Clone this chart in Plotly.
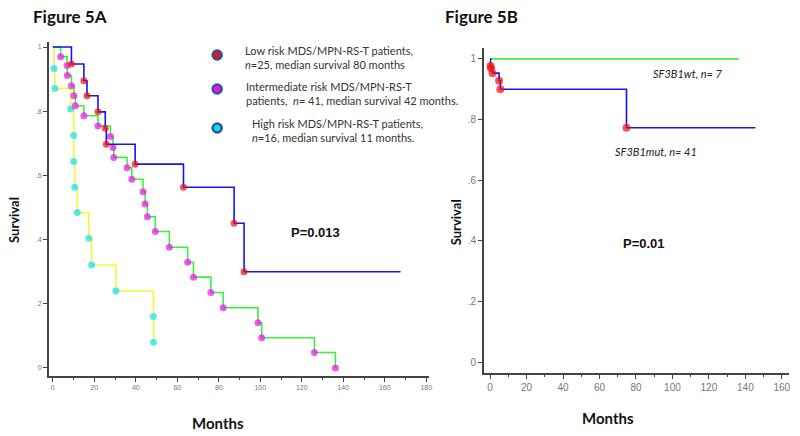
import plotly.graph_objects as go

W, H = 800, 436

# ---------------- Figure 5A data (months, survival) ----------------
low_t = [0, 9.0, 15.0, 16.5, 21.8, 25.3, 25.8, 39.7, 63.0, 87.4, 92.2, 167.6]
low_s = [1.0, 0.947, 0.895, 0.848, 0.798, 0.747, 0.697, 0.635, 0.563, 0.451, 0.300, 0.300]

int_t = [0, 3.8, 6.9, 7.0, 9.0, 10.2, 10.9, 15.0, 21.8, 27.8, 29.0, 29.4, 35.8, 38.1,
         43.5, 44.5, 45.6, 49.4, 56.2, 65.0, 67.8, 76.2, 82.1, 98.9, 100.7, 126.1, 136.2]
int_s = [1.0, 0.970, 0.942, 0.911, 0.879, 0.848, 0.817, 0.786, 0.754, 0.721, 0.687, 0.656, 0.624, 0.588,
         0.549, 0.511, 0.471, 0.425, 0.376, 0.329, 0.283, 0.235, 0.188, 0.141, 0.094, 0.048, 0.0]

high_t = [0, 0.6, 1.0, 8.6, 10.1, 10.1, 10.6, 11.8, 17.4, 18.7, 30.4, 48.5, 48.6]
high_s = [1.0, 0.933, 0.871, 0.807, 0.724, 0.643, 0.563, 0.484, 0.404, 0.321, 0.240, 0.160, 0.080]

# ---------------- Figure 5B data ----------------
wt_t = [0, 136.4]
wt_s = [1.0, 1.0]
mut_t = [0, 0.2, 0.5, 1.3, 4.9, 5.6, 74.8, 145.5]
mut_s = [1.0, 0.977, 0.969, 0.953, 0.928, 0.900, 0.773, 0.773]

y_ticks = [0, 0.2, 0.4, 0.6, 0.8, 1.0]
y_labels = ["0", ".2", ".4", ".6", ".8", "1"]
xa_ticks = list(range(0, 181, 20))
xb_ticks = list(range(0, 161, 20))

legend_text = [
    "Low risk MDS/MPN-RS-T patients,<br><i>n</i>=25, median survival 80 months",
    "Intermediate risk MDS/MPN-RS-T<br>patients,  <i>n</i>= 41, median survival 42 months.",
    "High risk MDS/MPN-RS-T patients,<br><i>n</i>=16, median survival 11 months.",
]

BLUE, GREEN, YELLOW = "#1414f0", "#3cf03c", "#f5f53a"
RED, MAGENTA, CYAN = "#f01010", "#f010f0", "#10e0f0"


def event_sizes(n, size=7, end_marker=True):
    s = [0] + [size] * (n - 1)
    if not end_marker:
        s[-1] = 0
    return s


fig = go.Figure()

def km(t, s, line_col, mk_col, xa, ya, end_marker=True, msize=7):
    fig.add_trace(go.Scatter(
        x=t, y=s, mode="lines+markers", line=dict(color=line_col, width=1.6, shape="hv"),
        marker=dict(color=mk_col, size=event_sizes(len(t), msize, end_marker),
                    line=dict(width=0)),
        xaxis=xa, yaxis=ya, showlegend=False, hoverinfo="skip"))

km(high_t, high_s, YELLOW, CYAN, "x", "y")
km(int_t, int_s, GREEN, MAGENTA, "x", "y")
km(low_t, low_s, BLUE, RED, "x", "y", end_marker=False)

km(wt_t, wt_s, GREEN, GREEN, "x2", "y2", end_marker=False)
km(mut_t, mut_s, BLUE, RED, "x2", "y2", end_marker=False, msize=8)

axis_common = dict(showgrid=False, zeroline=False, showline=True, linecolor="#444",
                   linewidth=1.6, ticks="outside", ticklen=4, tickcolor="#444",
                   fixedrange=True)

fig.update_layout(
    width=W, height=H, margin=dict(l=0, r=0, t=0, b=0),
    paper_bgcolor="white", plot_bgcolor="white",
    xaxis=dict(domain=[49 / W, 431 / W], range=[-1.9, 181.5], tickvals=xa_ticks,
               tickfont=dict(family="Liberation Sans Narrow, Liberation Sans", size=7, color="#777"),
               minor=dict(dtick=10, ticks="outside", ticklen=2, tickcolor="#444"),
               anchor="y", **axis_common),
    yaxis=dict(domain=[1 - 376 / H, 1 - 41.7 / H], range=[-0.025, 1.0165], tickvals=y_ticks,
               ticktext=y_labels,
               tickfont=dict(family="Liberation Sans Narrow, Liberation Sans", size=7, color="#777"),
               anchor="x", **axis_common),
    xaxis2=dict(domain=[485.7 / W, 791.7 / W], range=[-3.44, 163.8], tickvals=xb_ticks,
                tickfont=dict(family="Liberation Sans Narrow, Liberation Sans", size=10, color="#777"),
                minor=dict(dtick=10, ticks="outside", ticklen=2, tickcolor="#444"),
                anchor="y2", **axis_common),
    yaxis2=dict(domain=[1 - 372.7 / H, 1 - 48 / H], range=[-0.0353, 1.036], tickvals=y_ticks,
                ticktext=y_labels,
                tickfont=dict(family="Liberation Sans Narrow, Liberation Sans", size=10, color="#777"),
                anchor="x2", **axis_common),
)

def px_ann(text, x, y, size, bold=False, italic=False, color="#111", family="Lato",
           xanchor="center", angle=0, align="center"):
    if bold:
        text = "<b>" + text + "</b>"
    if italic:
        text = "<i>" + text + "</i>"
    fig.add_annotation(text=text, x=x / W, y=1 - y / H, xref="paper", yref="paper",
                       showarrow=False, font=dict(size=size, color=color, family=family),
                       xanchor=xanchor, yanchor="middle", textangle=angle, align=align)

# titles
px_ann("Figure 5A", 31, 16, 17, bold=True, xanchor="left")
px_ann("Figure 5B", 445, 16, 17, bold=True, xanchor="left")
# axis titles
px_ann("Survival", 14, 220, 13, bold=True, angle=-90)
px_ann("Survival", 458, 222, 13, bold=True, angle=-90)
px_ann("Months", 219, 423, 15, bold=True)
px_ann("Months", 610, 418, 15, bold=True)
# p-values
px_ann("P=0.013", 317, 233, 13, bold=True, family="Liberation Sans")
px_ann("P=0.01", 646, 243, 13, bold=True, family="Liberation Sans")
# 5B curve labels
px_ann("SF3B1wt, <i>n</i>= 7", 691, 73, 11, italic=True, family="Lato", color="#222")
px_ann("SF3B1mut, <i>n</i>= 41", 658, 151, 11, italic=True, family="Lato", color="#222")

# legend (5A)
legend_y = [57.5, 93, 130]
legend_x = [244, 245, 251]
legend_marker_y = [55, 89, 128]
legend_fill = [RED, MAGENTA, CYAN]
for txt, lx, ly, my, fc in zip(legend_text, legend_x, legend_y, legend_marker_y, legend_fill):
    px_ann(txt, lx, ly, 11, family="Lato", color="#333", xanchor="left", align="left")
    r = 4.5
    cx = 218
    fig.add_shape(type="circle", xref="paper", yref="paper",
                  x0=(cx - r) / W, x1=(cx + r) / W, y0=1 - (my + r) / H, y1=1 - (my - r) / H,
                  fillcolor=fc, line=dict(color="#2f5597", width=2.5))

fig.write_html("out.html", post_script="document.body.style.margin='0';",
               config={"displayModeBar": False})
